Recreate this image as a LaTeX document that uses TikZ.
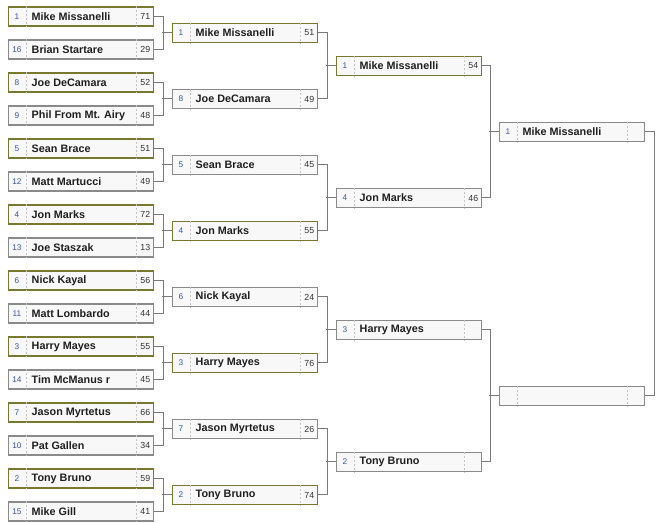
\documentclass[tikz,border=0pt]{standalone}
\usepackage{fontspec}
\setmainfont{Liberation Sans}
\definecolor{wonline}{HTML}{78782E}
\definecolor{lostline}{HTML}{8A8A8A}
\definecolor{slotfill}{HTML}{F8F8F8}
\definecolor{seedblue}{HTML}{3556A8}
\definecolor{dividegray}{HTML}{C4C4C4}
\definecolor{linkgray}{HTML}{7A7A7A}

\tikzset{
  slot/.style={draw,fill=slotfill,line width=0.8pt,inner sep=0pt,
    minimum width=108.75pt,minimum height=14.25pt,anchor=west},
  won/.style={draw=wonline},
  lost/.style={draw=lostline},
  divider/.style={dividegray,dashed,dash pattern=on 1.5pt off 1.5pt,line width=0.5pt},
  seedtxt/.style={text=seedblue,font=\fontsize{6.2}{7}\selectfont,inner sep=0pt},
  nametxt/.style={text=black!88,font=\fontsize{8.1}{9}\selectfont\bfseries,anchor=west,inner sep=0pt},
  scoretxt/.style={text=black!80,font=\fontsize{6.6}{7}\selectfont,inner sep=0pt},
  link/.style={linkgray,line width=0.75pt}
}

% #1 node, #2 left x, #3 middle y, #4 won/lost, #5 seed, #6 player, #7 score
\newcommand\player[7]{%
  \node[slot,#4] (#1) at (#2,{#3}) {};
  \draw[divider] ([xshift=13.5pt]#1.north west) -- ([xshift=13.5pt]#1.south west);
  \draw[divider] ([xshift=-13.5pt]#1.north east) -- ([xshift=-13.5pt]#1.south east);
  \node[seedtxt] (#1-s) at ([xshift=6.75pt]#1.west) {#5};
  \node[nametxt] (#1-n) at ([xshift=17.6pt]#1.west) {#6};
  \node[scoretxt] (#1-p) at ([xshift=-6.6pt]#1.east) {#7};
}

\begin{document}
\begin{tikzpicture}[x=0.75pt,y=-0.75pt]
  \useasboundingbox (0,0) rectangle (658,523);

  % first round
  \foreach \i/\s/\n/\p/\r in {
      1/1/Mike Missanelli/71/won, 2/16/Brian Startare/29/lost,
      3/8/Joe DeCamara/52/won, 4/9/Phil From Mt. Airy/48/lost,
      5/5/Sean Brace/51/won, 6/12/Matt Martucci/49/lost,
      7/4/Jon Marks/72/won, 8/13/Joe Staszak/13/lost,
      9/6/Nick Kayal/56/won, 10/11/Matt Lombardo/44/lost,
      11/3/Harry Mayes/55/won, 12/14/Tim McManus r/45/lost,
      13/7/Jason Myrtetus/66/won, 14/10/Pat Gallen/34/lost,
      15/2/Tony Bruno/59/won, 16/15/Mike Gill/41/lost}
    \player{r1-\i}{8}{16.5+33*(\i-1)}{\r}{\s}{\n}{\p};

  % second round
  \foreach \i/\s/\n/\p/\r in {
      1/1/Mike Missanelli/51/won, 2/8/Joe DeCamara/49/lost,
      3/5/Sean Brace/45/lost, 4/4/Jon Marks/55/won,
      5/6/Nick Kayal/24/lost, 6/3/Harry Mayes/76/won,
      7/7/Jason Myrtetus/26/lost, 8/2/Tony Bruno/74/won}
    \player{r2-\i}{172}{33+66*(\i-1)}{\r}{\s}{\n}{\p};

  % semi finals
  \foreach \i/\s/\n/\p/\r in {
      1/1/Mike Missanelli/54/won, 2/4/Jon Marks/46/lost,
      3/3/Harry Mayes//lost, 4/2/Tony Bruno//lost}
    \player{r3-\i}{336}{66+132*(\i-1)}{\r}{\s}{\n}{\p};

  % final
  \player{r4-1}{499}{132}{lost}{1}{Mike Missanelli}{};
  \player{r4-2}{499}{396}{lost}{}{}{};

  % brackets
  \foreach \a/\b in {1/2,3/4,5/6,7/8,9/10,11/12,13/14,15/16} {
    \draw[link] (r1-\a.east) -- ++(9,0) |- (r1-\b.east);
  }
  \foreach \i in {1,...,8}
    \draw[link] (r2-\i.west) -- ++(-10,0);
  \foreach \a/\b in {1/2,3/4,5/6,7/8}
    \draw[link] (r2-\a.east) -- ++(9,0) |- (r2-\b.east);
  \foreach \i in {1,...,4}
    \draw[link] (r3-\i.west) -- ++(-10,0);
  \foreach \a/\b in {1/2,3/4}
    \draw[link] (r3-\a.east) -- ++(8,0) |- (r3-\b.east);
  \foreach \i in {1,2}
    \draw[link] (r4-\i.west) -- ++(-10,0);
  \draw[link] (r4-1.east) -- ++(9,0) |- (r4-2.east);
\end{tikzpicture}
\end{document}
